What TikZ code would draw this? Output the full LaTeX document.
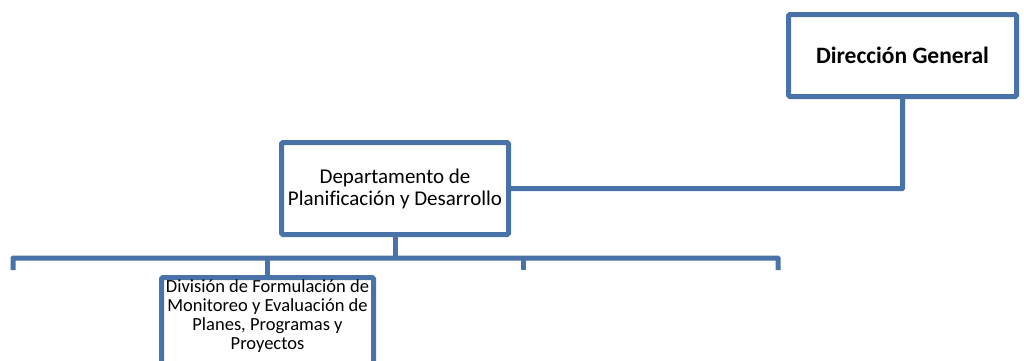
\documentclass[tikz,border=0pt]{standalone}
\usepackage{fontspec}
\setmainfont{Carlito}[Ligatures=NoCommon]
\definecolor{orgblue}{RGB}{72,114,168}

\begin{document}
\begin{tikzpicture}[x=1pt, y=-1pt, line width=5pt,
  every node/.style={draw=orgblue, rounded corners=1.5pt, align=center, inner sep=2pt},
  head/.style={font=\fontsize{23.5}{26}\selectfont\bfseries},
  unit/.style={font=\fontsize{21}{22}\selectfont},
  subunit/.style={font=\fontsize{18.5}{19}\selectfont, text depth=17pt},
  link/.style={draw=orgblue, rounded corners=0.5pt}]
  \useasboundingbox (0,0) rectangle (1024,360);
  \clip (0,0) rectangle (1024,360);
  \node[head, minimum width=228pt, minimum height=82pt] (dg) at (902.5,55.5) {Dirección General};
  \node[unit, minimum width=227pt, minimum height=92pt] (depto) at (395,188.5) {Departamento de\\Planificación y Desarrollo};
  \node[subunit, minimum width=212pt, minimum height=92pt] (div) at (267.5,323.5) {División de Formulación de\\Monitoreo y Evaluación de\\Planes, Programas y\\Proyectos};
  \coordinate (bus) at (395,258);
  \coordinate (s1) at (13,270);
  \coordinate (s3) at (523,270);
  \coordinate (s4) at (778,270);
  \draw[link] (dg.south) |- (depto.east);
  \draw[link] (depto.south) -- (bus);
  \draw[link] (s1) |- (bus) -| (s4);
  \draw[link] (bus -| div.north) -- (div.north);
  \draw[link] (bus -| s3) -- (s3);
\end{tikzpicture}
\end{document}
